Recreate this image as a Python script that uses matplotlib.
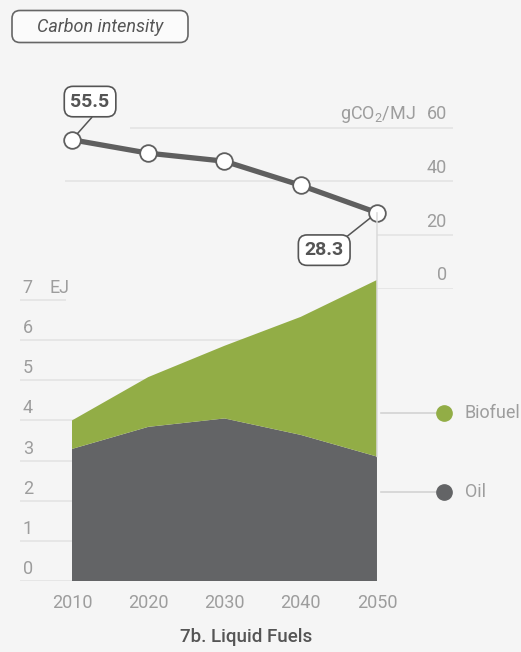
import matplotlib
matplotlib.use("Agg")
import matplotlib.pyplot as plt
from matplotlib.patches import FancyBboxPatch, ConnectionPatch
from matplotlib.transforms import Affine2D

plt.rcParams['font.family'] = ['Roboto', 'DejaVu Sans']
plt.rcParams['mathtext.fontset'] = 'custom'
plt.rcParams['mathtext.rm'] = 'Roboto'

# ---- data ----
years = [2010, 2020, 2030, 2040, 2050]
carbon_intensity = [55.5, 50.5, 47.5, 38.5, 28.3]
oil = [3.29, 3.84, 4.05, 3.64, 3.10]
biofuel = [0.71, 1.24, 1.81, 2.94, 4.40]
ej_ticks = [0, 1, 2, 3, 4, 5, 6, 7]
ci_ticks = [0, 20, 40, 60]
title_text = "Carbon intensity"
caption = "7b. Liquid Fuels"
series_names = ["Biofuel", "Oil"]

W, H = 521, 652
BG = "#f5f5f5"
OIL_C = "#636466"
BIO_C = "#92ad46"
GRID_C = "#e3e3e3"
TICK_C = "#9d9d9d"
DARK = "#555555"
TW = 'normal'

fig = plt.figure(figsize=(W / 100, H / 100), dpi=100, facecolor=BG)
px = Affine2D().scale(1 / W, -1 / H).translate(0, 1) + fig.transFigure

def frac_rect(l, t, r, b):
    return [l / W, 1 - b / H, (r - l) / W, (b - t) / H]

XL = (2003.18, 2059.97)

# ---- bottom axes (EJ) ----
axb = fig.add_axes(frac_rect(20, 581 - 8 * 40.14, 453, 581))
axb.set_xlim(*XL)
axb.set_ylim(0, 8)
axb.axis('off')
for v in ej_ticks:
    x_end = 2009.2 if v == 7 else years[-1]
    axb.hlines(v, XL[0], x_end, color=GRID_C, lw=1.2, zorder=0)
    axb.annotate(str(v), xy=(XL[0], v), xytext=(2, 5), textcoords='offset points',
                 ha='left', va='baseline', color=TICK_C, fontsize=13, fontweight=TW)
axb.annotate("EJ", xy=(XL[0], ej_ticks[-1]), xytext=(21, 5), textcoords='offset points',
             ha='left', va='baseline', color=TICK_C, fontsize=13, fontweight=TW)
axb.stackplot(years, oil, biofuel, colors=[OIL_C, BIO_C], lw=0, zorder=2)
for y in years:
    axb.annotate(str(y), xy=(y, 0), xytext=(0, -16), textcoords='offset points',
                 ha='center', va='center', color=TICK_C, fontsize=13, fontweight=TW)

# ---- top axes (carbon intensity) ----
axt = fig.add_axes(frac_rect(20, 288.5 - 70 * 2.68, 453, 288.5))
axt.set_xlim(*XL)
axt.set_ylim(0, 70)
axt.axis('off')
grid_start = {60: 2017.6, 40: 2009.1, 20: 2050, 0: 2050}
for v in ci_ticks:
    axt.hlines(v, grid_start[v], XL[1], color=GRID_C, lw=1.2, zorder=0)
    axt.annotate(str(v), xy=(XL[1], v), xytext=(-4.5, 6), textcoords='offset points',
                 ha='right', va='baseline', color=TICK_C, fontsize=13, fontweight=TW)
axt.annotate(r"gCO$_\mathregular{2}$/MJ", xy=(XL[1], ci_ticks[-1]), xytext=(-27, 6),
             textcoords='offset points', ha='right', va='baseline', color=TICK_C,
             fontsize=13, fontweight=TW)
axt.plot(years, carbon_intensity, color="#5f5f5f", lw=3.8, marker='o', ms=12,
         mfc='white', mec="#5f5f5f", mew=1.3, zorder=5, solid_capstyle='round')

box = dict(boxstyle="round,pad=0.32,rounding_size=0.45", fc='white', ec=DARK, lw=1.2)
axt.annotate(f"{carbon_intensity[0]:.1f}", xy=(years[0], carbon_intensity[0]),
             xytext=(13, 27.5), textcoords='offset points', ha='center', va='center',
             fontsize=14, fontweight='bold', color=DARK, bbox=box, zorder=6,
             arrowprops=dict(arrowstyle='-', color=DARK, lw=1.1, relpos=(0.7, 0),
                             shrinkA=0, shrinkB=6))
axt.annotate(f"{carbon_intensity[-1]:.1f}", xy=(years[-1], carbon_intensity[-1]),
             xytext=(-38, -27), textcoords='offset points', ha='center', va='center',
             fontsize=14, fontweight='bold', color=DARK, bbox=box, zorder=6,
             arrowprops=dict(arrowstyle='-', color=DARK, lw=1.1, relpos=(0.93, 1),
                             shrinkA=0, shrinkB=6))

# vertical connector at 2050
con = ConnectionPatch(xyA=(years[-1], carbon_intensity[-1]), coordsA=axt.transData,
                      xyB=(years[-1], oil[-1]), coordsB=axb.transData,
                      color="#d9d9d9", lw=1.1, zorder=3)
fig.add_artist(con)

# ---- legend ----
for name, ypx, col in zip(series_names, [413, 492], [BIO_C, OIL_C]):
    fig.add_artist(plt.Line2D([381, 436], [ypx, ypx], transform=px, color="#d3d3d3", lw=1.2))
    fig.add_artist(plt.Line2D([443.5], [ypx], transform=px, marker='o', ms=11,
                              color=col, lw=0))
    fig.text(465, ypx, name, transform=px, ha='left', va='center', color=TICK_C,
             fontsize=13, fontweight=TW)

# ---- title box ----
fig.add_artist(FancyBboxPatch((12, 10.5), 176, 32, boxstyle="round,pad=0,rounding_size=8",
                              transform=px, fc="#fbfbfb", ec="#666666", lw=1.2))
fig.text(100, 26.5, title_text, transform=px, ha='center', va='center', style='italic',
         color=DARK, fontsize=13, fontweight='normal')

# ---- caption ----
fig.text(246, 637, caption, transform=px, ha='center', va='center', color=DARK,
         fontsize=13.5, fontweight='medium')

fig.savefig("out.png", dpi=100, facecolor=BG)
